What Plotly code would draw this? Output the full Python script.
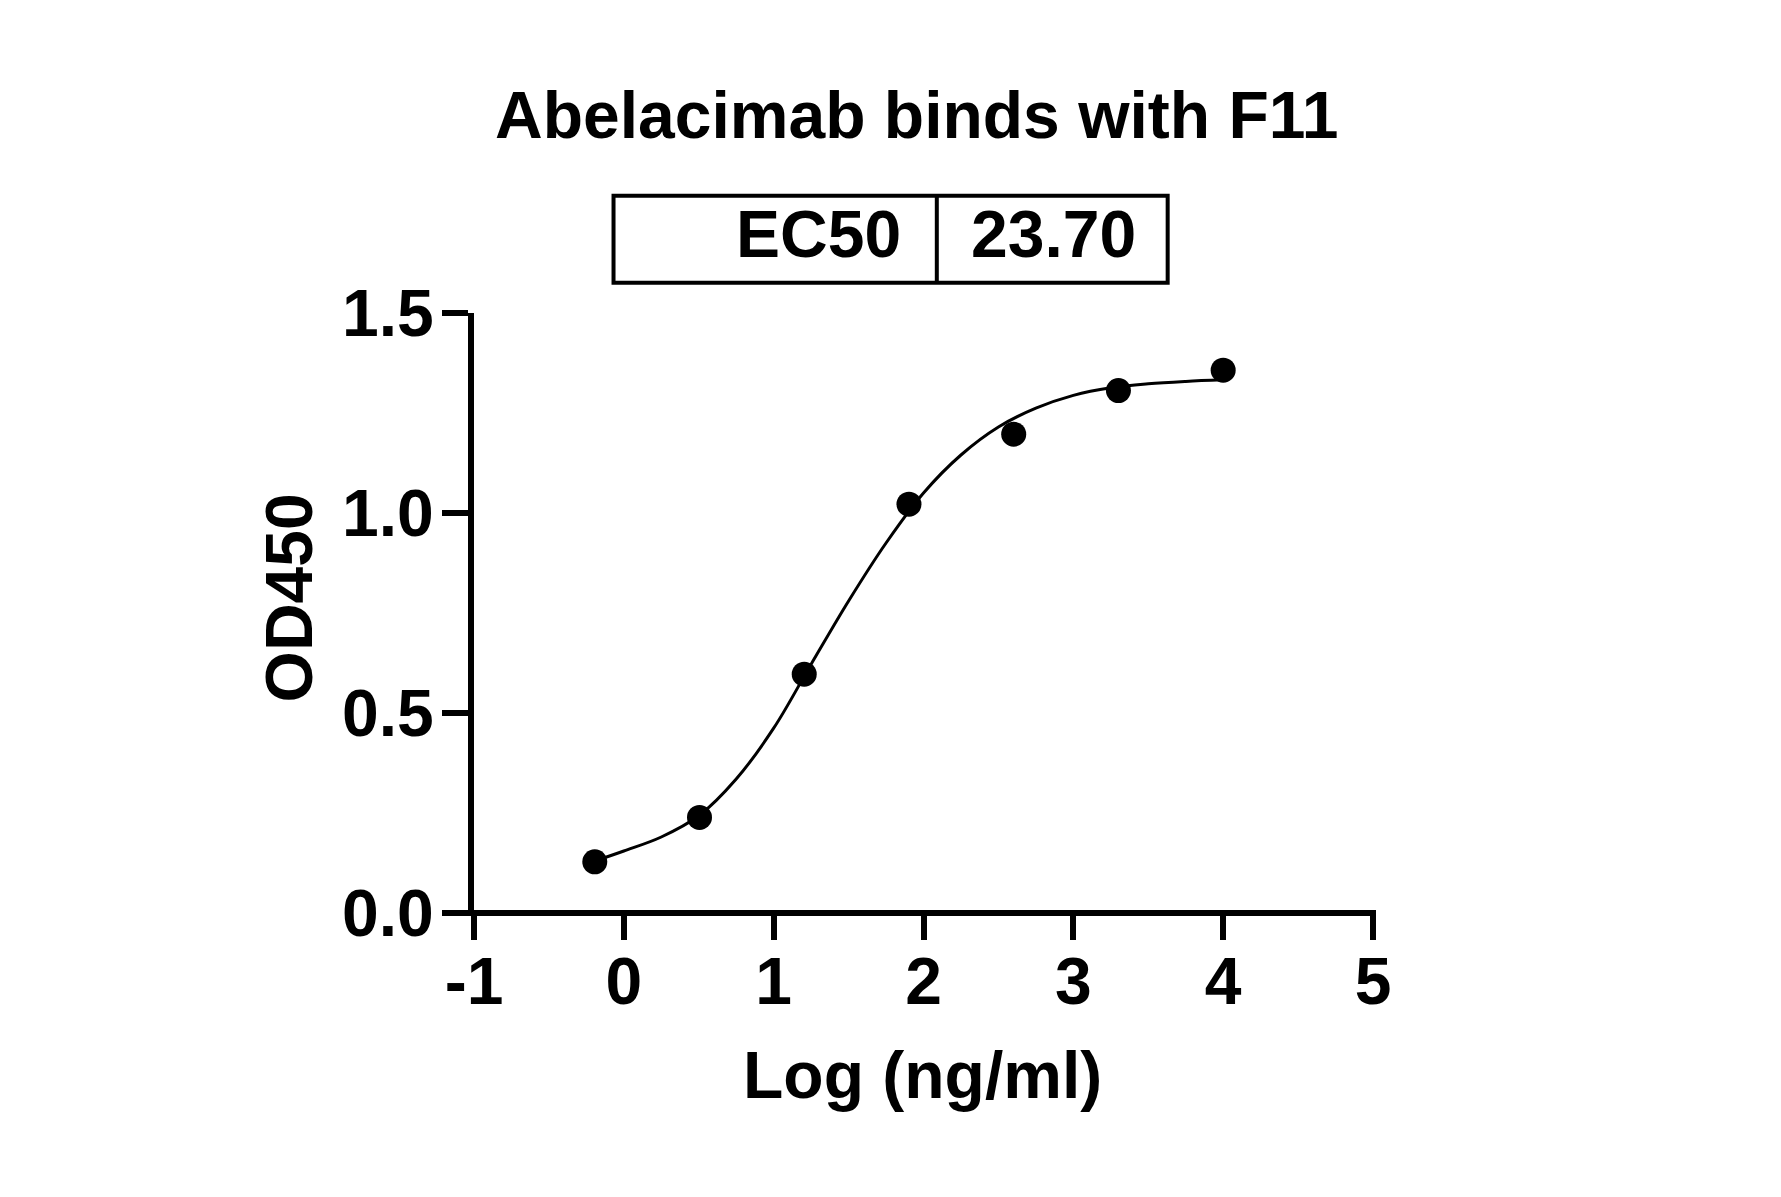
import plotly.graph_objects as go

# measured points (log ng/ml vs OD450)
log_conc = [-0.194, 0.505, 1.204, 1.903, 2.602, 3.301, 4.0]
od450 = [0.128, 0.239, 0.597, 1.022, 1.197, 1.306, 1.357]

# fitted curve
fit_x = [-0.194, 0.0, 0.25, 0.5, 0.75, 1.0, 1.25, 1.5, 1.75, 2.0,
         2.25, 2.5, 2.75, 3.0, 3.25, 3.5, 3.75, 4.0]
fit_y = [0.13, 0.155, 0.19, 0.243, 0.335, 0.462, 0.622, 0.78, 0.925, 1.05,
         1.145, 1.215, 1.262, 1.294, 1.313, 1.323, 1.329, 1.333]

x_ticks = [-1, 0, 1, 2, 3, 4, 5]
y_ticks = [0.0, 0.5, 1.0, 1.5]
y_tick_labels = ["0.0", "0.5", "1.0", "1.5"]

title = "Abelacimab binds with F11"
ec50_label = "EC50"
ec50_value = "23.70"

FONT = "Liberation Sans, Arial, sans-serif"
font_big = dict(family=FONT, size=66, color="black", weight="bold")

fig = go.Figure()
fig.add_trace(go.Scatter(
    x=fit_x, y=fit_y, mode="lines",
    line=dict(color="black", width=3, shape="spline", smoothing=1.0),
    hoverinfo="skip", showlegend=False,
))
fig.add_trace(go.Scatter(
    x=log_conc, y=od450, mode="markers",
    marker=dict(color="black", size=25),
    showlegend=False,
))

# page body adds 8px offset, so shift margins to compensate
W, H = 1781, 1197
fig.update_layout(
    width=W, height=H, autosize=False,
    margin=dict(l=466, r=416, t=305, b=292, pad=0),
    plot_bgcolor="white", paper_bgcolor="white",
    font=font_big,
)
fig.update_xaxes(
    range=[-1, 5], tickvals=x_ticks, ticktext=[str(v) for v in x_ticks],
    showline=False, showgrid=False, zeroline=False,
    ticks="outside", ticklen=26, tickwidth=6, tickcolor="black",
    tickfont=font_big, ticklabelstandoff=-15,
)
fig.update_yaxes(
    range=[0, 1.5], tickvals=y_ticks, ticktext=y_tick_labels,
    showline=True, linecolor="black", linewidth=6,
    showgrid=False, zeroline=False,
    ticks="outside", ticklen=26, tickwidth=6, tickcolor="black",
    tickfont=font_big, ticklabelstandoff=-5,
)

# x axis line reaching under the y ticks
fig.add_shape(type="line", xref="paper", yref="paper",
              x0=-26 / 899, x1=1 + 3 / 899, y0=0, y1=0,
              line=dict(color="black", width=6))

# EC50 table box
fig.add_shape(type="rect", xref="paper", yref="paper",
              x0=0.1552, x1=0.7716, y0=1.0505, y1=1.1955,
              line=dict(color="black", width=4), fillcolor="white")
fig.add_shape(type="line", xref="paper", yref="paper",
              x0=0.5148, x1=0.5148, y0=1.0505, y1=1.1955,
              line=dict(color="black", width=4))

fig.add_annotation(text=ec50_label, xref="paper", yref="paper",
                   x=0.4772, y=1.1313, xanchor="right", yanchor="middle",
                   showarrow=False, font=font_big)
fig.add_annotation(text=ec50_value, xref="paper", yref="paper",
                   x=0.5506, y=1.1313, xanchor="left", yanchor="middle",
                   showarrow=False, font=font_big)

fig.add_annotation(text=title, xref="paper", yref="paper",
                   x=0.4933, y=1.3297, xanchor="center", yanchor="middle",
                   showarrow=False, font=font_big)
fig.add_annotation(text="Log (ng/ml)", xref="paper", yref="paper",
                   x=0.4992, y=-0.2703, xanchor="center", yanchor="middle",
                   showarrow=False, font=font_big)
fig.add_annotation(text="OD450", xref="paper", yref="paper",
                   x=-0.2058, y=0.526, xanchor="center", yanchor="middle",
                   textangle=-90, showarrow=False, font=font_big)

fig.write_html("out.html")
